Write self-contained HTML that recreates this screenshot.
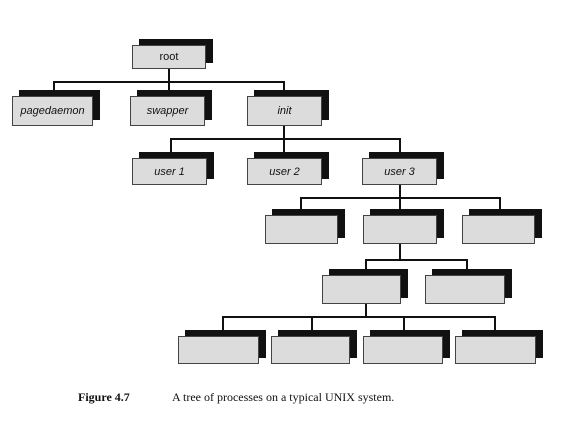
<!DOCTYPE html>
<html><head><style>
body{margin:0;width:578px;height:424px;background:#fff;position:relative;overflow:hidden;font-family:"Liberation Sans",sans-serif;}
.b{position:absolute;background:#dcdcdc;border:1px solid #444;box-sizing:border-box;font-style:italic;font-size:11px;color:#111;display:flex;align-items:center;justify-content:center;}
.s{position:absolute;background:#111;}
.l{position:absolute;background:#111;}
.cap{position:absolute;top:390px;font-family:"Liberation Serif",serif;font-size:12px;color:#111;}
</style></head><body>
<div id="c"></div>
<script>
var boxes=[[132,45,74,24,"root",1],[12,96,81,30,"pagedaemon"],[130,96,75,30,"swapper"],[247,96,75,30,"init"],
[132,158,75,27,"user 1"],[247,158,75,27,"user 2"],[362,158,75,27,"user 3"],
[265,215,73,29,""],[363,215,74,29,""],[462,215,73,29,""],
[322,275,79,29,""],[425,275,80,29,""],
[178,336,81,28,""],[271,336,79,28,""],[363,336,80,28,""],[455,336,81,28,""]];
var lines=[[53,81,231,2],[168,68,2,14],[53,81,2,15],[168,81,2,15],[283,81,2,15],
[283,126,2,13],[170,138,230,2],[170,138,2,20],[283,138,2,20],[399,138,2,20],
[399,185,2,13],[300,197,200,2],[300,197,2,18],[399,197,2,18],[499,197,2,18],
[399,244,2,16],[365,259,102,2],[365,259,2,16],[466,259,2,16],
[365,304,2,13],[222,316,273,2],[222,316,2,20],[311,316,2,20],[403,316,2,20],[494,316,2,20]];
var h="";
lines.forEach(function(a){h+='<div class="l" style="left:'+a[0]+'px;top:'+a[1]+'px;width:'+a[2]+'px;height:'+a[3]+'px"></div>';});
boxes.forEach(function(a){
h+='<div class="s" style="left:'+(a[0]+7)+'px;top:'+(a[1]-6)+'px;width:'+a[2]+'px;height:'+a[3]+'px"></div>';
h+='<div class="b" style="left:'+a[0]+'px;top:'+a[1]+'px;width:'+a[2]+'px;height:'+a[3]+'px;'+(a[5]?'font-style:normal':'')+'">'+a[4]+'</div>';});
document.getElementById('c').innerHTML=h;
</script>
<div class="cap" style="left:78px;font-weight:bold">Figure 4.7</div>
<div class="cap" style="left:172px">A tree of processes on a typical UNIX system.</div>
</body></html>
